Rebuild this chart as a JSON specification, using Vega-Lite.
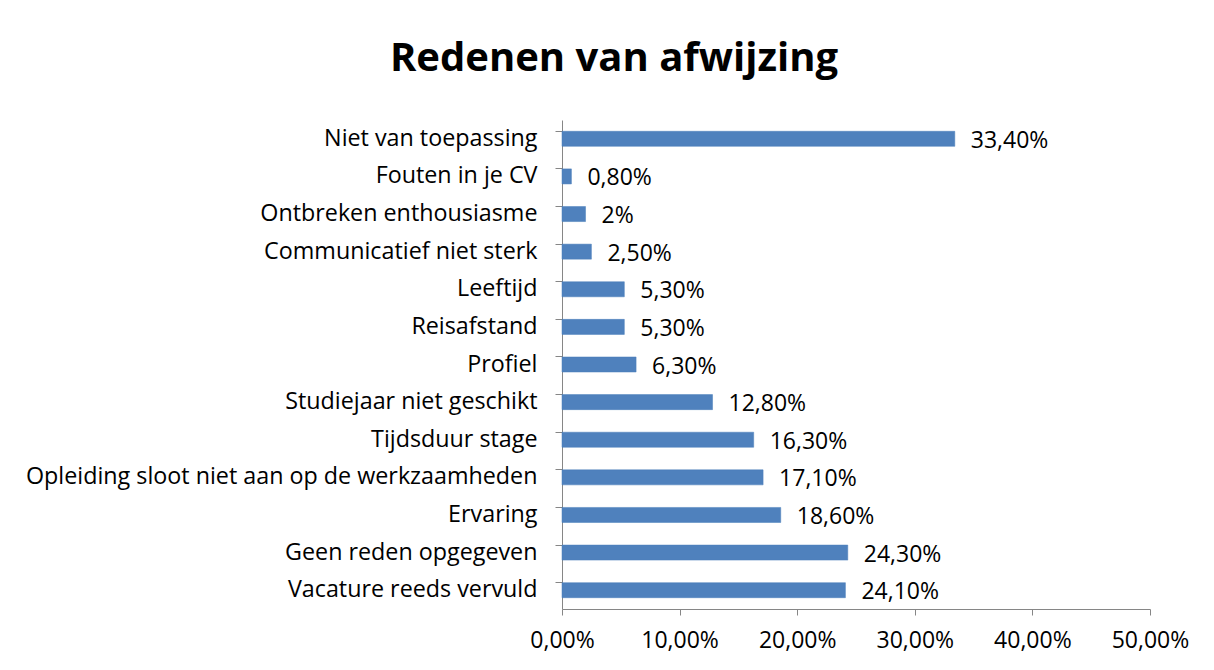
{
  "$schema": "https://vega.github.io/schema/vega-lite/v6.json",
  "autosize": {"type": "none"},
  "width": 588,
  "height": 489,
  "padding": {"left": 562, "top": 120, "right": 64, "bottom": 61},
  "background": "white",
  "title": {
    "text": "Redenen van afwijzing",
    "font": "Open Sans",
    "fontSize": 40,
    "fontWeight": "bold",
    "color": "black",
    "anchor": "middle",
    "dx": -242,
    "offset": 9,
    "baseline": "alphabetic"
  },
  "data": {
    "values": [
      {"reden": "Niet van toepassing", "pct": 33.4, "label": "33,40%"},
      {"reden": "Fouten in je CV", "pct": 0.8, "label": "0,80%"},
      {"reden": "Ontbreken enthousiasme", "pct": 2.0, "label": "2%"},
      {"reden": "Communicatief niet sterk", "pct": 2.5, "label": "2,50%"},
      {"reden": "Leeftijd", "pct": 5.3, "label": "5,30%"},
      {"reden": "Reisafstand", "pct": 5.3, "label": "5,30%"},
      {"reden": "Profiel", "pct": 6.3, "label": "6,30%"},
      {"reden": "Studiejaar niet geschikt", "pct": 12.8, "label": "12,80%"},
      {"reden": "Tijdsduur stage", "pct": 16.3, "label": "16,30%"},
      {"reden": "Opleiding sloot niet aan op de werkzaamheden", "pct": 17.1, "label": "17,10%"},
      {"reden": "Ervaring", "pct": 18.6, "label": "18,60%"},
      {"reden": "Geen reden opgegeven", "pct": 24.3, "label": "24,30%"},
      {"reden": "Vacature reeds vervuld", "pct": 24.1, "label": "24,10%"}
    ]
  },
  "encoding": {
    "y": {
      "field": "reden",
      "type": "nominal",
      "sort": null,
      "title": null,
      "scale": {"paddingInner": 0.6, "paddingOuter": 0.3},
      "axis": {
        "domainColor": "#868686",
        "tickColor": "#868686",
        "tickSize": 7,
        "bandPosition": 0,
        "labelFont": "Open Sans",
        "labelFontSize": 23.3,
        "labelColor": "black",
        "labelPadding": 18,
        "labelLimit": 600,
        "grid": false
      }
    },
    "x": {
      "field": "pct",
      "type": "quantitative",
      "title": null,
      "scale": {"domain": [0, 50], "nice": false},
      "axis": {
        "values": [0, 10, 20, 30, 40, 50],
        "labelExpr": "replace(format(datum.value, '.2f'), '.', ',') + '%'",
        "labelFlush": false,
        "domainColor": "#868686",
        "tickColor": "#868686",
        "tickSize": 6,
        "labelFont": "Open Sans",
        "labelFontSize": 23,
        "labelColor": "black",
        "labelPadding": 14,
        "grid": false
      }
    }
  },
  "layer": [
    {"mark": {"type": "bar", "color": "#4f81bd", "stroke": "#4a7ebb", "strokeWidth": 0.5}},
    {
      "mark": {"type": "text", "align": "left", "baseline": "middle", "dx": 16, "dy": 2, "font": "Open Sans", "fontSize": 23, "color": "black"},
      "encoding": {"text": {"field": "label"}}
    }
  ],
  "config": {"view": {"stroke": null}}
}
